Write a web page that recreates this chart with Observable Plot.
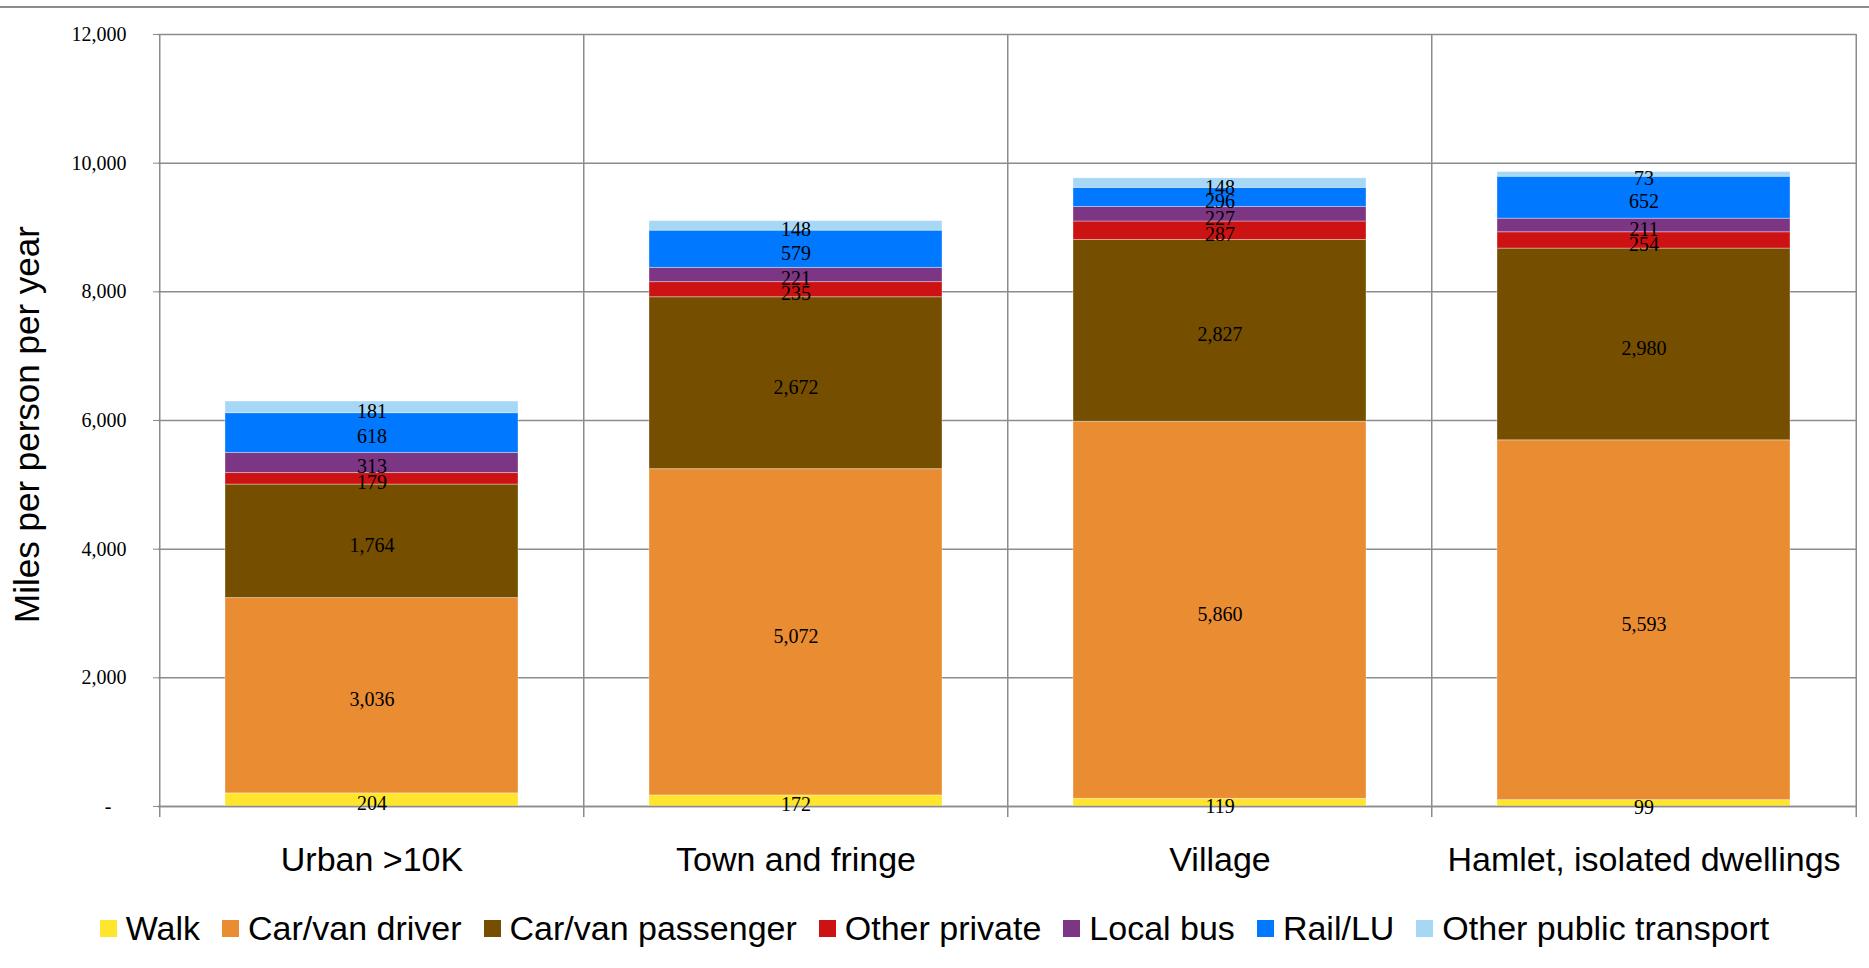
<!DOCTYPE html>
<html>
<head>
<meta charset="utf-8">
<script src="https://cdn.jsdelivr.net/npm/d3@7"></script>
<script src="https://cdn.jsdelivr.net/npm/@observablehq/plot@0.6"></script>
<style>
  body { margin: 0; background: #fff; }
  #wrap { position: relative; width: 1869px; height: 968px; overflow: hidden; }
  #topline { position: absolute; left: 0; top: 6px; width: 1869px; height: 0; border-top: 2px solid #8c8c8c; }
  #legend { margin-top: 29px; display: flex; justify-content: center; }
  .lg-swatches { font-family: "Liberation Sans", Arial, sans-serif !important; font-size: 34px !important; color: #000; justify-content: center; margin: 0 !important; }
  .lg-swatch { margin-right: 22px !important; }
  .lg-swatch:last-child { margin-right: 0 !important; }
  .lg-swatch > svg { margin-right: 9px !important; }
</style>
</head>
<body>
<div id="wrap">
  <div id="topline"></div>
  <div id="chart"></div>
  <div id="legend"></div>
</div>
<script>
// Annual miles per person by main mode, by settlement type
const categories = ["Urban >10K", "Town and fringe", "Village", "Hamlet, isolated dwellings"];
const modes = ["Walk", "Car/van driver", "Car/van passenger", "Other private", "Local bus", "Rail/LU", "Other public transport"];
const modeColors = ["#FFE52B", "#E98C32", "#754E00", "#CC1212", "#7D3684", "#0078FF", "#A6D7F4"];

const walk            = [204, 172, 119, 99];
const carVanDriver    = [3036, 5072, 5860, 5593];
const carVanPassenger = [1764, 2672, 2827, 2980];
const otherPrivate    = [179, 235, 287, 254];
const localBus        = [313, 221, 227, 211];
const railLU          = [618, 579, 296, 652];
const otherPublic     = [181, 148, 148, 73];

const yTicks = [0, 2000, 4000, 6000, 8000, 10000, 12000];
const yTitle = "Miles per person per year";

const series = [walk, carVanDriver, carVanPassenger, otherPrivate, localBus, railLU, otherPublic];
const rows = [];
series.forEach((vals, i) => {
  vals.forEach((v, j) => rows.push({category: categories[j], mode: modes[i], value: v}));
});

const W = 1869, H = 880;
const mL = 158, mR = 13, mT = 34, mB = H - 806;
const step = (W - mL - mR) / categories.length;
const grey = "#8c8c8c";
const serif = "'Liberation Serif', 'Times New Roman', serif";
const sans = "'Liberation Sans', Arial, sans-serif";
const fmt = d3.format(",");

const chart = Plot.plot({
  width: W,
  height: H,
  marginLeft: mL,
  marginRight: mR,
  marginTop: mT,
  marginBottom: mB,
  style: {background: "#fff", overflow: "visible"},
  x: {domain: categories, paddingInner: 0.31, paddingOuter: 0.155, label: null},
  y: {domain: [0, 12000], label: null},
  color: {domain: modes, range: modeColors},
  marks: [
    Plot.gridY(yTicks, {stroke: grey, strokeOpacity: 1, strokeWidth: 1.5}),
    // category separators, extended below the baseline as tick marks
    Plot.ruleX(categories, {x: d => d, dx: -step / 2, stroke: grey, strokeWidth: 1.5, insetBottom: -11}),
    Plot.ruleX(categories.slice(-1), {x: d => d, dx: step / 2, stroke: grey, strokeWidth: 1.5, insetBottom: -11}),
    Plot.barY(rows, {x: "category", y: "value", fill: "mode", stroke: "#fff", strokeOpacity: 0.35, strokeWidth: 1}),
    Plot.ruleY([0], {stroke: grey, strokeWidth: 1.5}),
    Plot.text(rows, Plot.stackY({
      x: "category", y: "value", z: "mode",
      text: d => fmt(d.value),
      dy: 4,
      fill: "#000", fontSize: 20, fontFamily: serif
    })),
    Plot.axisY(yTicks, {
      tickSize: 5, tickPadding: 27, stroke: grey, fill: "#000",
      fontSize: 20, fontFamily: serif,
      tickFormat: d => d === 0 ? "-\u00a0\u00a0\u00a0" : fmt(d)
    }),
    Plot.axisX({tickSize: 0, tickPadding: 40, fontSize: 34, fontFamily: sans, fill: "#000"}),
    Plot.text([yTitle], {
      text: d => d, frameAnchor: "left", textAnchor: "middle", rotate: -90,
      dx: -131, dy: 4, fontSize: 35, fontFamily: sans, fill: "#000"
    })
  ]
});
document.getElementById("chart").appendChild(chart);

const legend = Plot.legend({
  color: {type: "ordinal", domain: modes, range: modeColors},
  swatchSize: 17,
  className: "lg"
});
document.getElementById("legend").appendChild(legend);
</script>
</body>
</html>
